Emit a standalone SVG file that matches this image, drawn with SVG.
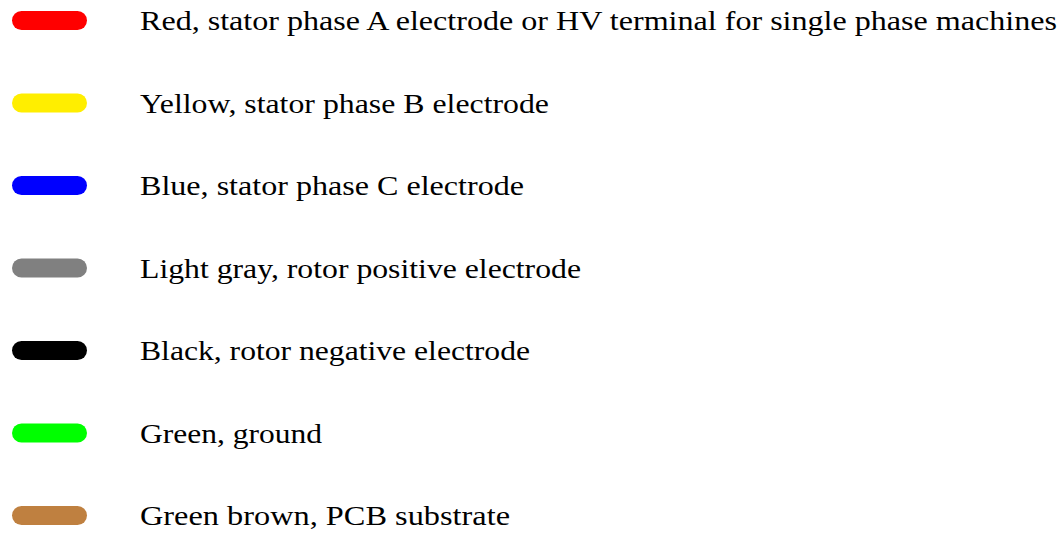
<svg xmlns="http://www.w3.org/2000/svg" width="1061" height="533" viewBox="0 0 1061 533">
<style>
.pill{stroke-width:19;stroke-linecap:round;fill:none}
.lbl{font-family:"Liberation Serif","DejaVu Serif",serif;font-size:27px;fill:#000}
</style>
<rect width="1061" height="533" fill="#fff"/>
<g id="red"><line class="pill" x1="21.5" y1="20.5" x2="77.5" y2="20.5" stroke="#ff0000"/><text class="lbl" x="140" y="30" textLength="917" lengthAdjust="spacingAndGlyphs">Red, stator phase A electrode or HV terminal for single phase machines</text></g>
<g id="yellow"><line class="pill" x1="21.5" y1="103" x2="77.5" y2="103" stroke="#ffee00"/><text class="lbl" x="140" y="112.5" textLength="409" lengthAdjust="spacingAndGlyphs">Yellow, stator phase B electrode</text></g>
<g id="blue"><line class="pill" x1="21.5" y1="185.5" x2="77.5" y2="185.5" stroke="#0000ff"/><text class="lbl" x="140" y="195" textLength="384" lengthAdjust="spacingAndGlyphs">Blue, stator phase C electrode</text></g>
<g id="gray"><line class="pill" x1="21.5" y1="268" x2="77.5" y2="268" stroke="#808080"/><text class="lbl" x="140" y="277.5" textLength="441" lengthAdjust="spacingAndGlyphs">Light gray, rotor positive electrode</text></g>
<g id="black"><line class="pill" x1="21.5" y1="350.5" x2="77.5" y2="350.5" stroke="#000000"/><text class="lbl" x="140" y="360" textLength="390" lengthAdjust="spacingAndGlyphs">Black, rotor negative electrode</text></g>
<g id="green"><line class="pill" x1="21.5" y1="433" x2="77.5" y2="433" stroke="#00ff00"/><text class="lbl" x="140" y="442.5" textLength="182" lengthAdjust="spacingAndGlyphs">Green, ground</text></g>
<g id="brown"><line class="pill" x1="21.5" y1="515.5" x2="77.5" y2="515.5" stroke="#bf8040"/><text class="lbl" x="140" y="525" textLength="370" lengthAdjust="spacingAndGlyphs">Green brown, PCB substrate</text></g>
</svg>
